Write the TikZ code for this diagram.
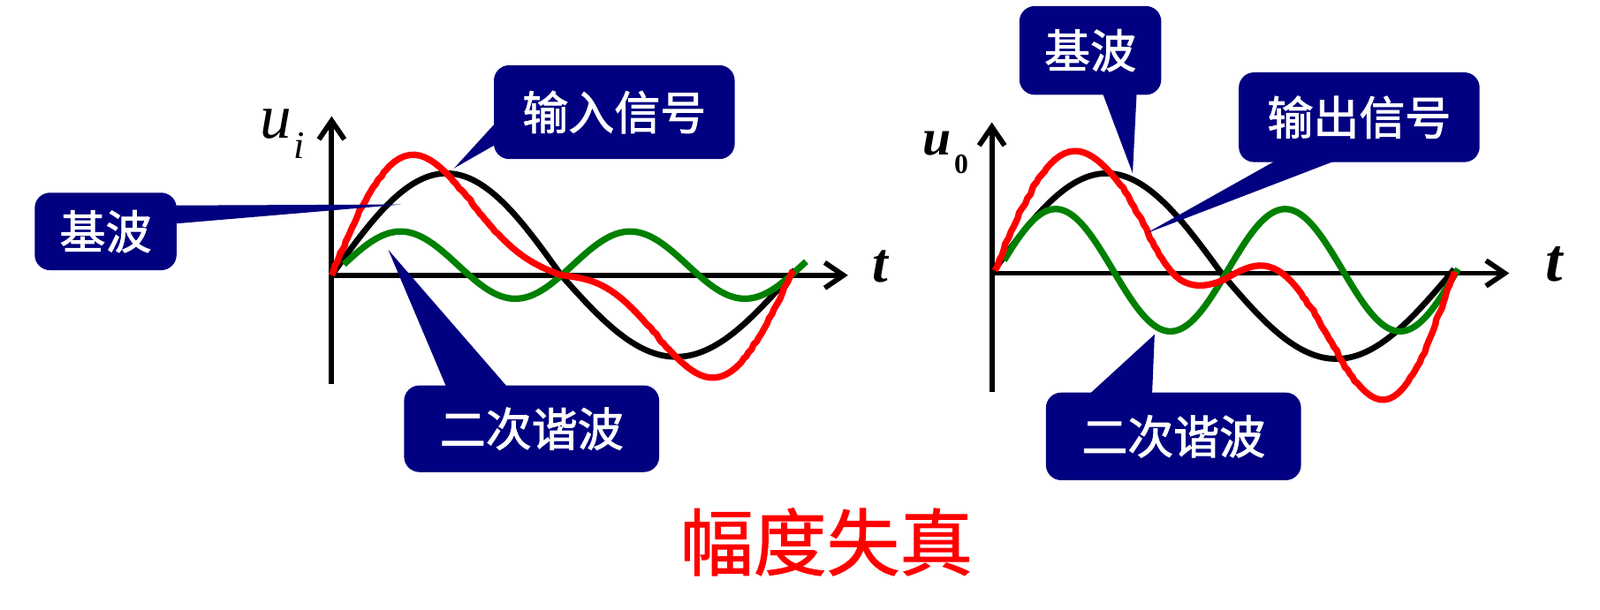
\documentclass[tikz,border=0pt]{standalone}
\usepackage{fontspec}
\setmainfont{Liberation Serif}
\newfontfamily\cjk[FakeBold=1.8]{Noto Sans CJK SC}
\newfontfamily\cjktitle[FakeBold=1.2]{Noto Sans CJK SC}
\usetikzlibrary{arrows.meta,decorations.pathmorphing}
\definecolor{navy}{RGB}{0,0,128}
\definecolor{dkgreen}{RGB}{0,128,0}
\definecolor{sigred}{RGB}{255,0,0}
\tikzset{
  axisline/.style={line width=3pt,-{Straight Barb[length=11pt,width=15pt]}},
  fundw/.style={line width=3.5pt,black},
  harmw/.style={line width=3.8pt,dkgreen},
  sigw/.style={line width=3.8pt,sigred,line join=round,
    decorate,decoration={random steps,segment length=3pt,amplitude=0.6pt}},
  callout/.style={fill=navy,rounded corners=9pt,text=white,inner sep=0pt,
    font=\cjk\fontsize{27}{30}\selectfont},
  lbl/.style={inner sep=0pt}
}
\begin{document}
\begin{tikzpicture}[x=0.6pt,y=-0.6pt]
\useasboundingbox (0,0) rectangle (1568,598);
% ---------- left plot ----------
\coordinate (l0) at (325,270);
\coordinate (lyb) at (325,377);
\coordinate (lyt) at (325,114);
\coordinate (lxt) at (831,270);
\draw[axisline] (lyb) -- (lyt);
\draw[axisline] (l0) -- (lxt);
\draw[fundw] plot[domain=325:779,samples=120]
  (\x,{270-90*sin(0.8*(\x-325))-10*abs(sin(0.8*(\x-325)))});
\draw[harmw] plot[domain=337:790,samples=120]
  (\x,{260-33*sin(1.6*(\x-325)-18)});
\draw[sigw] plot[domain=325:777,samples=90]
  (\x,{270-90*sin(0.8*(\x-325))-10*abs(sin(0.8*(\x-325)))-36*sin(1.6*(\x-325))});
\node[lbl,font=\itshape\fontsize{37}{37}\selectfont] (ui) at (270,122) {u};
\node[lbl,font=\itshape\fontsize{23}{23}\selectfont] (uisub) at (293.5,143) {i};
\node[lbl,font=\bfseries\itshape\fontsize{33}{33}\selectfont] (tl) at (863,261) {t};
% ---------- right plot ----------
\coordinate (r0) at (972,268);
\coordinate (ryb) at (972,384);
\coordinate (ryt) at (972,120);
\coordinate (rxt) at (1479,268);
\draw[axisline] (ryb) -- (ryt);
\draw[axisline] (r0) -- (rxt);
\draw[fundw] plot[domain=972:1425,samples=120]
  (\x,{268-91*sin(0.8*(\x-972))-7*abs(sin(0.8*(\x-972)))});
\draw[harmw] plot[domain=984:1429,samples=140]
  (\x,{265-60*sin(1.6*(\x-972)-10)});
\draw[sigw] plot[domain=975:1425,samples=100]
  (\x,{268-91*sin(0.8*(\x-972))-7*abs(sin(0.8*(\x-972)))
     -(37+25*((0.8*(\x-972)<90)?0:((0.8*(\x-972)>150)?1:(1-cos(3*(0.8*(\x-972)-90)))/2)))
      *sin(1.6*(\x-972)-7)});
\node[lbl,font=\bfseries\itshape\fontsize{30}{30}\selectfont] (uo) at (918.5,141) {u};
\node[lbl,font=\bfseries\fontsize{16.5}{16.5}\selectfont] (uosub) at (942,161) {0};
\node[lbl,font=\bfseries\itshape\fontsize{36}{36}\selectfont] (tr) at (1523,259) {t};
% ---------- callouts left ----------
\node[callout,minimum width=141.6pt,minimum height=55.2pt] (b1) at (602,110) {输入信号};
\coordinate (t1) at (445,165);
\fill[navy] (487,119) -- (t1) -- (487,141) -- cycle;
\node[callout,minimum width=83.4pt,minimum height=45.6pt] (b2) at (103.5,227) {基波};
\coordinate (t2) at (394,200.5);
\fill[navy] (170,201.5) -- (t2) -- (170,219.5) -- cycle;
\node[callout,minimum width=150pt,minimum height=51pt] (b3) at (521,420.5) {二次谐波};
\coordinate (t3) at (380.5,245);
\fill[navy] (438,381) -- (t3) -- (498.5,381) -- cycle;
% ---------- callouts right ----------
\node[callout,minimum width=83.4pt,minimum height=52.2pt] (b4) at (1068.5,49.5) {基波};
\coordinate (t4) at (1110,170);
\fill[navy] (1080,90) -- (t4) -- (1114,90) -- cycle;
\node[callout,minimum width=141.6pt,minimum height=52.8pt] (b5) at (1332,115) {输出信号};
\coordinate (t5) at (1123,229);
\fill[navy] (1253,156) -- (t5) -- (1313,156) -- cycle;
\node[callout,minimum width=150pt,minimum height=51.6pt] (b6) at (1150,428) {二次谐波};
\coordinate (t6) at (1131.5,328);
\fill[navy] (1066,388) -- (t6) -- (1129,388) -- cycle;
% ---------- title ----------
\node[lbl,text=sigred,font=\cjktitle\fontsize{43}{46}\selectfont] (title) at (810,531.5) {幅度失真};
\end{tikzpicture}
\end{document}
